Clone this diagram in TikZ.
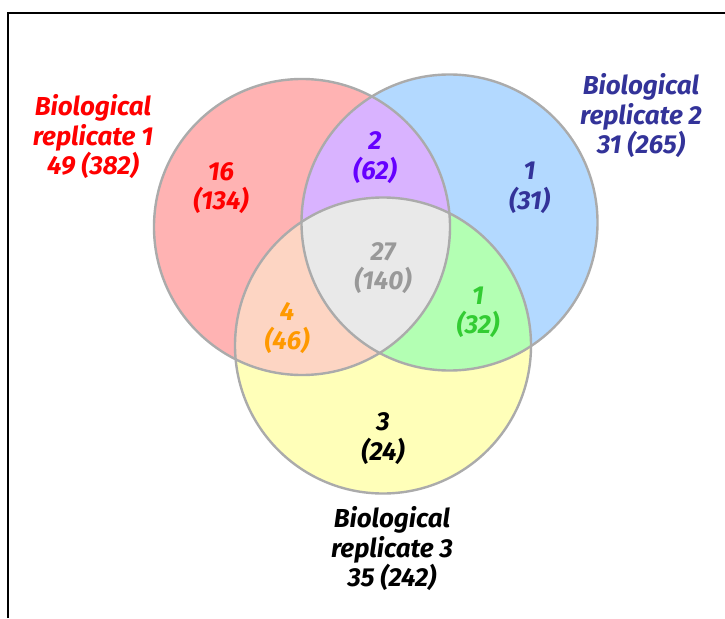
\documentclass[tikz,border=0pt]{standalone}
\usepackage{fontspec}
\setmainfont{Fira Sans}
\usepackage{xcolor}
\definecolor{redfill}{HTML}{FFB3B3}
\definecolor{bluefill}{HTML}{B3D9FF}
\definecolor{yellowfill}{HTML}{FFFFB9}
\definecolor{purplefill}{HTML}{D9B3FF}
\definecolor{orangefill}{HTML}{FDD5C3}
\definecolor{greenfill}{HTML}{B3FFB3}
\definecolor{corefill}{HTML}{E9E9E9}
\definecolor{ringgray}{HTML}{ABABAB}
\definecolor{navytxt}{HTML}{333399}
\definecolor{violettxt}{HTML}{6600FF}
\definecolor{graytxt}{HTML}{999999}
\definecolor{orangetxt}{HTML}{FF9900}
\definecolor{greentxt}{HTML}{33CC33}
\tikzset{
  ring/.style     = {draw=ringgray, line width=2.4pt},
  regionlab/.style = {font=\fontsize{26}{29.5}\selectfont\bfseries\itshape, align=center},
  setlab/.style   = {font=\fontsize{26}{29.5}\selectfont\bfseries\itshape, align=center},
}

\begin{document}
\begin{tikzpicture}[x=1pt, y=-1pt]

% ── Canvas: one unit = one pixel of the figure, y pointing down ──
\useasboundingbox (0,0) rectangle (725,618);
\draw[line width=2pt] (7.5,618) -- (7.5,13) -- (725,13);

% ── Circle centres, all of the same radius ──────────────────
\def\R{148pt}
\coordinate (rep1) at (302,227);
\coordinate (rep2) at (449.5,222.5);
\coordinate (rep3) at (383,345.5);

% ── Single sets ──────────────────────────────────────────────
\fill[redfill]    (rep1) circle[radius=\R];
\fill[bluefill]   (rep2) circle[radius=\R];
\fill[yellowfill] (rep3) circle[radius=\R];

% ── Pairwise overlaps ────────────────────────────────────────
\begin{scope}
  \clip (rep1) circle[radius=\R];
  \fill[purplefill] (rep2) circle[radius=\R];
  \fill[orangefill] (rep3) circle[radius=\R];
\end{scope}
\begin{scope}
  \clip (rep2) circle[radius=\R];
  \fill[greenfill] (rep3) circle[radius=\R];
\end{scope}

% ── Core: all three ──────────────────────────────────────────
\begin{scope}
  \clip (rep1) circle[radius=\R];
  \clip (rep2) circle[radius=\R];
  \fill[corefill] (rep3) circle[radius=\R];
\end{scope}

% outlines on top
\foreach \c in {rep1,rep2,rep3}
  \draw[ring] (\c) circle[radius=\R];

% ── Region counts ────────────────────────────────────────────
\foreach \nm/\pos/\col/\txt in {%
    only1/{221,188}/red/{16\\(134)},
    one2/{375,157.5}/violettxt/{2\\(62)},
    only2/{529.5,188}/navytxt/{1\\(31)},
    all/{383,268}/graytxt/{27\\(140)},
    one3/{287,328}/orangetxt/{4\\(46)},
    two3/{478,312.5}/greentxt/{1\\(32)},
    only3/{383,438.5}/black/{3\\(24)}}{
  \node[regionlab, text=\col] (\nm) at (\pos) {\txt};
}

% ── Set names with totals ────────────────────────────────────
\node[setlab, text=red]     (lab1) at (93,137)  {Biological\\replicate 1\\49 (382)};
\node[setlab, text=navytxt] (lab2) at (641,116) {Biological\\replicate 2\\31 (265)};
\node[setlab, text=black]   (lab3) at (392,549) {Biological\\replicate 3\\35 (242)};

\end{tikzpicture}
\end{document}
